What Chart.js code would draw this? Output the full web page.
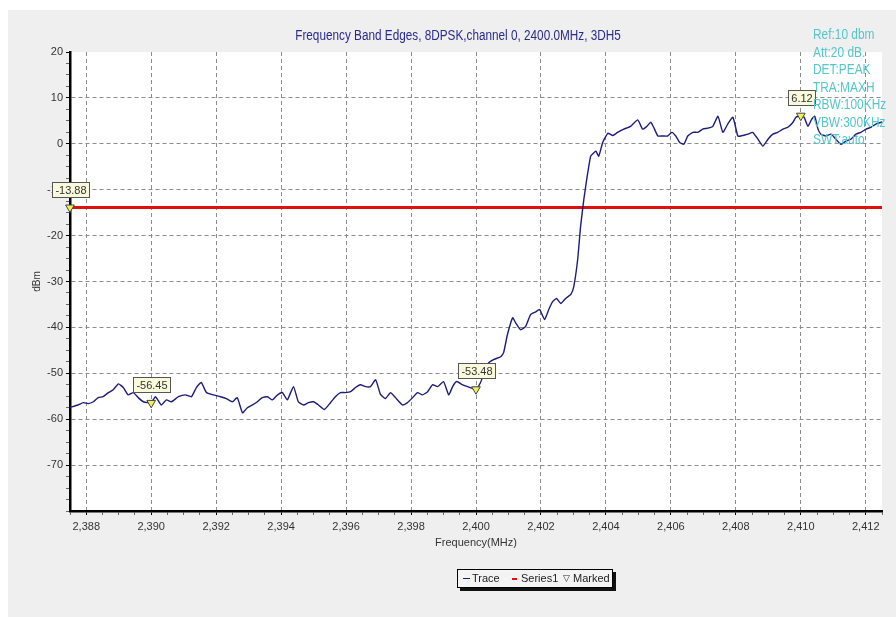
<!DOCTYPE html>
<html>
<head>
<meta charset="utf-8">
<script src="https://cdn.jsdelivr.net/npm/chart.js@4.4.0/dist/chart.umd.min.js"></script>
<style>
html, body { margin:0; padding:0; background:#fff; }
#wrap { position:relative; width:896px; height:617px; overflow:hidden; }
#panel { position:absolute; left:8px; top:10px; right:0; bottom:0; background:#efefef; }
#c { position:absolute; left:0; top:0; }
.sans { font-family:'Liberation Sans', Arial, sans-serif; }
#title { position:absolute; left:208px; width:500px; top:27px; text-align:center; font-size:14px; color:#2a2a8c; transform:scaleX(0.84); transform-origin:center top; white-space:nowrap; }
#params { position:absolute; left:813px; top:26px; font-size:14px; line-height:17.5px; color:#55c6ca; transform:scaleX(0.85); transform-origin:0 0; white-space:nowrap; }
#legend { position:absolute; left:457px; top:569px; width:154px; height:17px; border:1px solid #000; background:#f4f4f4; box-shadow:3px 3px 0 #111; font-size:11px; color:#222; }
#legend span { position:absolute; top:2px; white-space:nowrap; }
.ln { position:absolute; height:0; }
</style>
</head>
<body>
<div id="wrap">
  <div id="panel"></div>
  <canvas id="c" width="896" height="617"></canvas>
  <div id="title" class="sans">Frequency Band Edges, 8DPSK,channel 0, 2400.0MHz, 3DH5</div>
  <div id="params" class="sans"></div>
  <div id="legend" class="sans">
    <div class="ln" style="left:5px;top:8px;width:7px;border-top:1.5px solid #1c1c7a"></div>
    <span style="left:14px">Trace</span>
    <div class="ln" style="left:54px;top:8px;width:5px;border-top:2px solid #dd1111"></div>
    <span style="left:63px">Series1</span>
    <span style="left:105px;font-size:9px;top:3px">&#9661;</span>
    <span style="left:115px">Marked</span>
  </div>
</div>
<script>
const FONT = "'Liberation Sans', Arial, sans-serif";

// trace (MHz, dBm)
const freqMHz = [
  2387.50, 2387.75, 2387.91, 2388.06, 2388.22, 2388.37, 2388.52, 2388.68, 2388.83, 2388.99,
  2389.14, 2389.29, 2389.45, 2389.60, 2389.76, 2390.00, 2390.13, 2390.31, 2390.47, 2390.62,
  2390.84, 2391.05, 2391.24, 2391.39, 2391.54, 2391.70, 2391.91, 2392.13, 2392.31, 2392.50,
  2392.65, 2392.81, 2392.96, 2393.12, 2393.27, 2393.42, 2393.58, 2393.73, 2393.89, 2394.04,
  2394.19, 2394.38, 2394.53, 2394.69, 2394.84, 2395.00, 2395.15, 2395.33, 2395.52, 2395.67,
  2395.83, 2395.98, 2396.14, 2396.29, 2396.44, 2396.60, 2396.75, 2396.91, 2397.06, 2397.21,
  2397.37, 2397.52, 2397.74, 2397.89, 2398.05, 2398.20, 2398.35, 2398.51, 2398.66, 2398.82,
  2399.00, 2399.16, 2399.28, 2399.40, 2399.59, 2399.74, 2400.00, 2400.14, 2400.23, 2400.39,
  2400.54, 2400.76, 2400.85, 2400.97, 2401.13, 2401.22, 2401.37, 2401.53, 2401.68, 2401.84,
  2401.96, 2402.11, 2402.24, 2402.36, 2402.48, 2402.61, 2402.76, 2402.92, 2403.01, 2403.13,
  2403.22, 2403.32, 2403.41, 2403.53, 2403.62, 2403.69, 2403.78, 2403.90, 2404.06, 2404.21,
  2404.36, 2404.55, 2404.76, 2404.98, 2405.13, 2405.26, 2405.38, 2405.47, 2405.60, 2405.75,
  2405.90, 2406.03, 2406.15, 2406.27, 2406.40, 2406.52, 2406.68, 2406.83, 2406.98, 2407.14,
  2407.29, 2407.45, 2407.60, 2407.75, 2407.91, 2408.06, 2408.15, 2408.37, 2408.52, 2408.68,
  2408.83, 2408.99, 2409.14, 2409.29, 2409.45, 2409.60, 2409.76, 2409.85, 2410.00, 2410.10,
  2410.22, 2410.34, 2410.43, 2410.53, 2410.62, 2410.77, 2410.93, 2411.08, 2411.24, 2411.39,
  2411.54, 2411.70, 2411.85, 2412.01, 2412.16, 2412.31, 2412.47, 2412.50
];
const traceDbm = [
  -57.4, -56.9, -56.4, -56.6, -56.2, -55.3, -55.1, -54.2, -53.6, -52.3,
  -53.1, -54.7, -54.2, -55.3, -56.2, -56.45, -55.1, -56.9, -55.8, -56.2,
  -55.1, -54.7, -55.1, -53.1, -52.0, -54.2, -54.7, -55.1, -55.5, -56.2,
  -55.3, -58.6, -57.5, -56.9, -56.2, -55.3, -55.1, -55.8, -54.7, -54.2,
  -55.8, -52.9, -56.2, -56.9, -56.4, -56.2, -56.9, -57.9, -56.4, -55.1,
  -54.2, -54.2, -54.0, -53.1, -52.5, -52.9, -52.9, -51.4, -54.6, -55.5,
  -54.2, -55.3, -56.9, -56.4, -55.3, -54.2, -54.7, -54.0, -52.5, -52.9,
  -51.8, -54.7, -52.9, -51.8, -52.5, -52.9, -53.48, -52.0, -50.3, -47.7,
  -47.0, -46.4, -45.5, -41.5, -37.9, -39.0, -40.5, -39.8, -37.2, -36.6,
  -36.1, -38.3, -36.1, -34.4, -33.7, -34.8, -33.7, -32.8, -31.1, -25.2,
  -18.0, -12.1, -7.7, -2.7, -2.0, -1.6, -2.7, 0.3, 2.3, 1.8,
  2.5, 3.2, 3.8, 5.2, 3.2, 3.8, 4.7, 3.6, 1.7, 1.7,
  1.7, 2.5, 1.7, 0.3, -0.1, 1.7, 2.5, 2.5, 3.2, 3.4,
  3.8, 6.0, 2.5, 4.3, 5.8, 1.7, 1.7, 2.1, 2.5, 1.0,
  -0.5, 1.0, 2.1, 2.5, 3.2, 3.6, 4.7, 5.8, 6.12, 5.8,
  3.8, 5.4, 6.0, 3.2, 2.1, 1.7, 2.1, 1.0, -0.1, 0.6,
  1.0, 2.1, 2.5, 3.2, 3.6, 4.3, 4.7, 4.8
];

// limit line (Series1)
const limitFreq = [2387.5, 2412.5];
const limitDbm = [-13.88, -13.88];

// markers
const markerFreq = [2387.5, 2390, 2400, 2410];
const markerDbm = [-13.88, -56.45, -53.48, 6.12];
const markerLabels = ['-13.88', '-56.45', '-53.48', '6.12'];

// axes
const xLabelValues = [2388, 2390, 2392, 2394, 2396, 2398, 2400, 2402, 2404, 2406, 2408, 2410, 2412];
const xLabelText = ['2,388', '2,390', '2,392', '2,394', '2,396', '2,398', '2,400', '2,402', '2,404', '2,406', '2,408', '2,410', '2,412'];
const yLabelValues = [20, 10, 0, -10, -20, -30, -40, -50, -60, -70];
const yGridValues = [10, 0, -10, -20, -30, -40, -50, -60, -70];

const paramLines = ['Ref:10 dbm', 'Att:20 dB.', 'DET:PEAK', 'TRA:MAXH', 'RBW:100KHz', 'VBW:300KHz', 'SWT:auto'];
document.getElementById('params').innerHTML = paramLines.join('<br>');

const areaBg = {
  id: 'areaBg',
  beforeDraw(chart) {
    const a = chart.chartArea, c = chart.ctx;
    c.save(); c.fillStyle = '#fff';
    c.fillRect(a.left, a.top, a.right - a.left, a.bottom - a.top);
    c.restore();
  }
};

const markerBoxes = {
  id: 'markerBoxes',
  afterDatasetsDraw(chart) {
    const meta = chart.getDatasetMeta(2), c = chart.ctx;
    c.save();
    c.font = '11px ' + FONT;
    meta.data.forEach((pt, i) => {
      const txt = markerLabels[i];
      const w = Math.round(c.measureText(txt).width) + 7, h = 16;
      const x = Math.round(pt.x - w / 2 + 1), y = Math.round(pt.y - 10 - h);
      c.fillStyle = '#f9f9dc'; c.fillRect(x, y, w, h);
      c.strokeStyle = '#555'; c.lineWidth = 1; c.strokeRect(x + 0.5, y + 0.5, w - 1, h - 1);
      c.fillStyle = '#333'; c.textAlign = 'center'; c.textBaseline = 'middle';
      c.fillText(txt, x + w / 2, y + h / 2 + 1);
    });
    c.restore();
  }
};

new Chart(document.getElementById('c'), {
  type: 'scatter',
  data: {
    datasets: [
      { label: 'Trace', data: freqMHz.map((f, i) => ({x: f, y: traceDbm[i]})), showLine: true,
        borderColor: '#1c1c7a', borderWidth: 1.4, pointRadius: 0, tension: 0.15, order: 2 },
      { label: 'Series1', data: limitFreq.map((f, i) => ({x: f, y: limitDbm[i]})), showLine: true,
        borderColor: '#dd1111', borderWidth: 3, pointRadius: 0, order: 3 },
      { label: 'Marked', data: markerFreq.map((f, i) => ({x: f, y: markerDbm[i]})), showLine: false,
        pointStyle: 'triangle', rotation: 180, pointRadius: 5, backgroundColor: '#f0f05a',
        borderColor: '#444', borderWidth: 1, clip: false, order: 1 }
    ]
  },
  options: {
    responsive: false, animation: false,
    layout: { padding: { top: 52, right: 14, left: 0, bottom: 0 } },
    plugins: { legend: { display: false }, tooltip: { enabled: false } },
    scales: {
      x: {
        type: 'linear', min: 2387.5, max: 2412.5,
        afterFit: s => { s.height = 106; },
        ticks: { stepSize: 0.5, autoSkip: false, maxRotation: 0, padding: 5, color: '#333',
          font: { family: FONT, size: 11 },
          callback: v => { const k = xLabelValues.indexOf(v); return k < 0 ? '' : xLabelText[k]; } },
        grid: { color: c => xLabelValues.includes(c.tick && c.tick.value) ? '#8c8c8c' : 'rgba(0,0,0,0)',
          tickColor: c => xLabelValues.includes(c.tick && c.tick.value) ? '#000' : '#666',
          tickLength: 4, lineWidth: 1 },
        border: { color: '#000', width: 2.5, dash: [4, 3] },
        title: { display: true, text: 'Frequency(MHz)', color: '#333', font: { family: FONT, size: 11 }, padding: { bottom: 67 } }
      },
      y: {
        min: -80, max: 20,
        afterFit: s => { s.width = 70; },
        ticks: { stepSize: 2.5, autoSkip: false, padding: 3, color: '#333',
          font: { family: FONT, size: 11 },
          callback: v => yLabelValues.includes(v) ? String(v) : '' },
        grid: { color: c => yGridValues.includes(c.tick && c.tick.value) ? '#8c8c8c' : 'rgba(0,0,0,0)',
          tickColor: c => yLabelValues.includes(c.tick && c.tick.value) ? '#000' : '#666',
          tickLength: 4, lineWidth: 1 },
        border: { color: '#000', width: 2.5, dash: [4, 3] },
        title: { display: true, text: 'dBm', color: '#333', font: { family: FONT, size: 10 }, padding: { top: 31 } }
      }
    }
  },
  plugins: [areaBg, markerBoxes]
});
</script>
</body>
</html>
